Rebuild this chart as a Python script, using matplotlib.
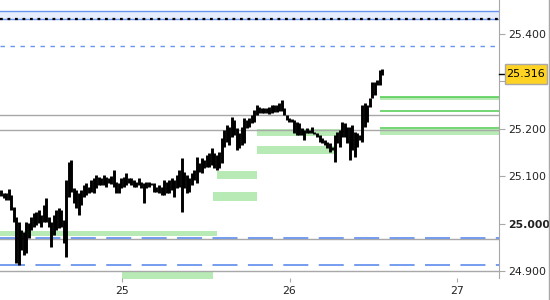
import numpy as np
import matplotlib.pyplot as plt
import matplotlib.transforms as mtransforms
from matplotlib.lines import Line2D
from matplotlib.patches import Rectangle

plt.rcParams['font.family'] = 'DejaVu Sans'
plt.rcParams['lines.scale_dashes'] = False

# bar data (high / low), one bar every 0.015 day starting at t_start
t_start = 24.2745
t_step = 0.015
highs = [25.071, 25.065, 25.065, 25.073, 25.061, 25.035, 25.014, 25.004, 24.987, 24.982,
         25.004, 25.001, 25.014, 25.022, 25.025, 25.029, 25.018, 25.039, 25.054, 25.014,
         25.004, 25.018, 25.029, 25.033, 25.029, 25.008, 25.092, 25.130, 25.134, 25.075,
         25.071, 25.065, 25.071, 25.082, 25.086, 25.077, 25.092, 25.096, 25.103, 25.099,
         25.096, 25.103, 25.099, 25.096, 25.101, 25.113, 25.088, 25.086, 25.096, 25.099,
         25.107, 25.096, 25.096, 25.092, 25.088, 25.096, 25.088, 25.086, 25.088, 25.088,
         25.086, 25.086, 25.077, 25.082, 25.077, 25.092, 25.088, 25.092, 25.096, 25.092,
         25.103, 25.113, 25.139, 25.109, 25.103, 25.096, 25.107, 25.113, 25.141, 25.128,
         25.139, 25.134, 25.145, 25.149, 25.160, 25.149, 25.145, 25.151, 25.181, 25.198,
         25.208, 25.204, 25.225, 25.219, 25.202, 25.192, 25.204, 25.223, 25.219, 25.223,
         25.230, 25.240, 25.251, 25.246, 25.244, 25.244, 25.244, 25.246, 25.251, 25.251,
         25.251, 25.255, 25.261, 25.244, 25.230, 25.223, 25.221, 25.219, 25.215, 25.213,
         25.202, 25.198, 25.202, 25.198, 25.204, 25.194, 25.192, 25.187, 25.181, 25.177,
         25.173, 25.170, 25.162, 25.187, 25.194, 25.198, 25.215, 25.213, 25.204, 25.204,
         25.208, 25.194, 25.192, 25.187, 25.251, 25.255, 25.251, 25.265, 25.299, 25.299,
         25.303, 25.325, 25.327]
lows = [25.058, 25.054, 25.050, 25.050, 25.029, 25.004, 24.917, 24.913, 24.944, 24.934,
        24.938, 24.970, 24.987, 24.993, 24.997, 25.001, 24.993, 25.004, 25.004, 24.993,
        24.951, 24.976, 24.987, 24.991, 24.993, 24.959, 24.930, 25.056, 25.067, 25.044,
        25.033, 25.018, 25.039, 25.056, 25.061, 25.065, 25.067, 25.065, 25.075, 25.082,
        25.082, 25.082, 25.077, 25.086, 25.084, 25.077, 25.065, 25.065, 25.075, 25.077,
        25.082, 25.086, 25.082, 25.077, 25.077, 25.082, 25.075, 25.044, 25.075, 25.077,
        25.082, 25.067, 25.067, 25.065, 25.061, 25.061, 25.065, 25.065, 25.071, 25.056,
        25.075, 25.077, 25.025, 25.075, 25.065, 25.067, 25.082, 25.092, 25.086, 25.109,
        25.107, 25.118, 25.120, 25.120, 25.124, 25.118, 25.113, 25.118, 25.128, 25.162,
        25.173, 25.166, 25.183, 25.187, 25.156, 25.160, 25.166, 25.170, 25.202, 25.204,
        25.213, 25.215, 25.230, 25.234, 25.234, 25.234, 25.234, 25.232, 25.234, 25.236,
        25.236, 25.238, 25.238, 25.230, 25.219, 25.215, 25.215, 25.192, 25.187, 25.187,
        25.187, 25.177, 25.192, 25.192, 25.192, 25.189, 25.183, 25.173, 25.170, 25.166,
        25.160, 25.151, 25.156, 25.130, 25.170, 25.162, 25.183, 25.183, 25.170, 25.134,
        25.156, 25.141, 25.162, 25.177, 25.173, 25.204, 25.215, 25.246, 25.265, 25.272,
        25.293, 25.293, 25.314]
last_price = 25.316

# zones (light green boxes): start, end, low, high
zone_start = [24.0, 25.000, 25.543, 25.567, 25.807, 25.807]
zone_end = [25.567, 25.543, 25.807, 25.807, 26.286, 26.322]
zone_low = [24.974, 24.883, 25.048, 25.094, 25.147, 25.185]
zone_high = [24.985, 24.898, 25.067, 25.111, 25.164, 25.200]

# zones on the right side, after the last bar
right_start = 26.541
right_low = [25.261, 25.187]
right_high = [25.268, 25.199]
right_lines = [25.268, 25.238, 25.201]

band_top = 25.449
band_bottom = 25.432
blue_short = 25.375
blue_long = [24.970, 24.913]
gray_levels = [25.230, 25.198, 24.967, 24.899]

y_ticks = [24.9, 25.0, 25.1, 25.2, 25.3, 25.4]
x_ticks = [25, 26, 27]

fig = plt.figure(figsize=(5.5, 3), dpi=100)
ax = fig.add_axes([0, 0.0733, 499 / 550, 1 - 0.0733])
ax.set_xlim(24.2685, 27.253)
ax.set_ylim(24.885, 25.472)

blue = '#6a95ee'
green_fill = '#b7eab5'
green_line = '#4ccb4c'
gray = '#a8a8a8'

# top band
ax.axhspan(band_bottom, band_top, color='#e6edfc', lw=0, zorder=1)
ax.axhline(band_top, color=blue, lw=1.0, zorder=2)
ax.axhline(band_bottom, color=blue, lw=1.0, zorder=2)
ax.axhline(band_bottom, color='black', lw=1.6, dashes=(2.0, 3.4), zorder=3)
ax.axhline(blue_short, color=blue, lw=1.0, dashes=(3.2, 4.0), zorder=2)
for lv in blue_long:
    ax.axhline(lv, color=blue, lw=1.3, dashes=(18, 7.5), zorder=3)
for lv in gray_levels:
    ax.axhline(lv, color=gray, lw=1.0, zorder=2)

for s, e, lo, hi in zip(zone_start, zone_end, zone_low, zone_high):
    ax.fill_between([s, e], lo, hi, color=green_fill, lw=0, zorder=1)
for lo, hi in zip(right_low, right_high):
    ax.fill_between([right_start, 28], lo, hi, color=green_fill, lw=0, zorder=1)
for lv in right_lines:
    ax.hlines(lv, right_start, 28, color=green_line, lw=1.1, zorder=2)

# price bars
t = t_start + t_step * np.arange(len(highs))
ax.vlines(t, lows, highs, color='black', lw=2.1, zorder=5, capstyle='butt')

# axes styling
for side in ['left', 'top', 'bottom']:
    ax.spines[side].set_visible(False)
ax.spines['right'].set_color(gray)
ax.yaxis.tick_right()
ax.set_yticks(y_ticks)
ax.set_yticklabels(['%.3f' % v for v in y_ticks])
ax.set_xticks(x_ticks)
ax.set_xticklabels([str(v) for v in x_ticks])
ax.tick_params(axis='y', colors=gray, labelcolor='#222222', length=4.5, width=0.8,
               labelsize=7.8, pad=2)
ax.tick_params(axis='x', colors=gray, labelcolor='#222222', length=3, width=0.8,
               labelsize=7.8, pad=3)
for lbl in ax.get_yticklabels():
    if lbl.get_text() == '25.000':
        lbl.set_fontweight('bold')

# last price marker
trans = mtransforms.blended_transform_factory(ax.transAxes, ax.transData)
ax.plot([1.0, 1.012], [last_price, last_price], color='black', lw=1.0,
        transform=trans, clip_on=False, zorder=6)
box = Rectangle((1.012, last_price - 0.021), 0.084, 0.042, transform=trans,
                fc='#ffd323', ec='#a8a8a8', lw=1.0, clip_on=False, zorder=9)
ax.add_patch(box)
ax.text(1.054, last_price, '%.3f' % last_price, transform=trans, ha='center', va='center',
        fontsize=8, color='black', zorder=10)

fig.add_artist(Line2D([548.5 / 550, 548.5 / 550], [0, 1], color=gray, lw=1.0))

fig.savefig('out.png', dpi=100)
